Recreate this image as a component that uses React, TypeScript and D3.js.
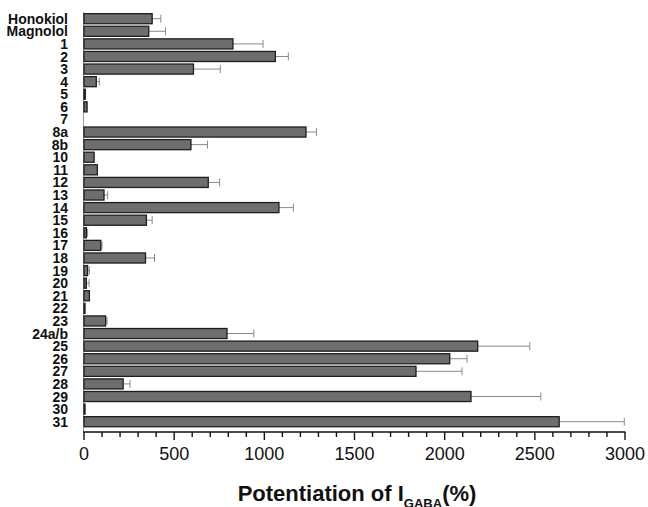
import React from "react";
import * as d3 from "d3";

const categories = ["Honokiol","Magnolol","1","2","3","4","5","6","7","8a","8b","10","11","12","13","14","15","16","17","18","19","20","21","22","23","24a/b","25","26","27","28","29","30","31"];
const values = [378,359,826,1061,607,68,7,17,0,1231,593,56,74,689,111,1081,346,13,93,341,20,13,30,2,120,793,2183,2028,1841,217,2146,5,2635];
const errors = [48,93,167,72,149,17,0,0,0,58,92,0,0,63,20,80,32,7,7,50,10,15,0,0,8,149,289,96,255,38,387,0,361];
const xTicks = [0,500,1000,1500,2000,2500,3000];

export default function App() {
  const W = 648, H = 507;
  const x = d3.scaleLinear().domain([0, 3000]).range([84, 625]);
  const y = d3.scaleBand().domain(categories).range([12.4, 428]).paddingInner(0.2).paddingOuter(0.1);
  const axisY = 432;
  const minor = d3.range(0, 3001, 100);
  const bw = y.bandwidth();
  return (
    <svg width={W} height={H} style={{ position: "absolute", left: 0, top: 0, background: "#fff" }}>
      <line x1={x(0) - 0.5} x2={x(0) - 0.5} y1={12} y2={axisY} stroke="#999" strokeWidth={1} />
      {categories.map((c, i) => {
        const yc = (y(c) as number) + bw / 2;
        const v = values[i];
        const e = errors[i];
        return (
          <g key={c}>
            {e > 0 && (
              <g stroke="#8a8a8a" strokeWidth={1}>
                <line x1={x(v)} x2={x(v + e)} y1={yc} y2={yc} />
                <line x1={x(v + e)} x2={x(v + e)} y1={yc - 4} y2={yc + 4} />
              </g>
            )}
            {v > 0 && (
              <rect x={x(0)} y={y(c)} width={Math.max(x(v) - x(0), 1)} height={bw} fill="#6e6e6e" stroke="#1e1e1e" strokeWidth={1.3} />
            )}
            <text x={68} y={yc} dy="0.36em" textAnchor="end" fontFamily="Liberation Sans, Arial, sans-serif" fontWeight="bold" fontSize={14} fill="#111">{c}</text>
          </g>
        );
      })}
      <line x1={x(0) - 1} x2={x(3000) + 0.5} y1={axisY} y2={axisY} stroke="#111" strokeWidth={1.5} />
      {minor.map((t) => (
        <line key={"m" + t} x1={x(t)} x2={x(t)} y1={axisY} y2={axisY + (t % 500 === 0 ? 8 : 5)} stroke="#111" strokeWidth={1.4} />
      ))}
      {xTicks.map((t) => (
        <text key={t} x={x(t)} y={460} textAnchor="middle" fontFamily="Liberation Sans, Arial, sans-serif" fontSize={18} fill="#111">{t}</text>
      ))}
      <text x={357} y={501} textAnchor="middle" fontFamily="Liberation Sans, Arial, sans-serif" fontWeight="bold" fontSize={22} fill="#111">
        Potentiation of I<tspan fontSize={13} dy={7}>GABA</tspan><tspan dy={-7}>(%)</tspan>
      </text>
    </svg>
  );
}
